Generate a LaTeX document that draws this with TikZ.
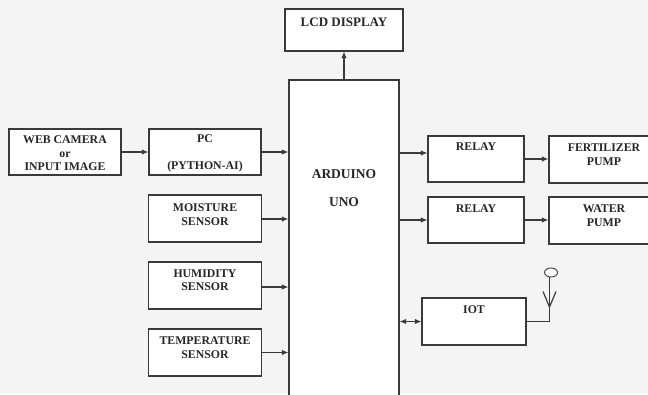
\documentclass[tikz,border=0pt]{standalone}
\usepackage{fontspec}
\setmainfont{Liberation Serif}
\usetikzlibrary{arrows.meta}
\definecolor{bggray}{HTML}{F4F4F4}
\definecolor{linegray}{HTML}{3A3A3A}
\definecolor{inkgray}{HTML}{262626}
\begin{document}
\begin{tikzpicture}[x=1pt,y=-1pt,
    blok/.style={draw=linegray, line width=1.2pt, fill=white, inner sep=0pt},
    txt/.style={text=inkgray, font=\bfseries\fontsize{11.8}{13.5}\selectfont, align=center, inner sep=0pt},
    arr/.style={draw=linegray, line width=1.2pt, -{Latex[length=6.5pt,width=5.5pt]}},
    darr/.style={draw=linegray, line width=1.2pt, {Latex[length=6.5pt,width=5.5pt]}-{Latex[length=6.5pt,width=5.5pt]}}]
    % background and frame of the page
        \fill[bggray] (0,0) rectangle (648,394);
        \clip (0,0) rectangle (648,394);
    % Below are the boxes.
        \node[blok, minimum width=118, minimum height=42] (lcd) at (344,30) {};
        \node[blok, minimum width=110, minimum height=350] (arduino) at (344,255) {};
        \node[blok, minimum width=112, minimum height=46] (webcam) at (65,152) {};
        \node[blok, minimum width=112, minimum height=46] (pc) at (205,152) {};
        \node[blok, minimum width=113, minimum height=47] (moisture) at (205,218.5) {};
        \node[blok, minimum width=113, minimum height=47] (humidity) at (205,285.5) {};
        \node[blok, minimum width=113, minimum height=47] (temp) at (205,352.5) {};
        \node[blok, minimum width=96, minimum height=46] (relayA) at (476,159) {};
        \node[blok, minimum width=96, minimum height=46] (relayB) at (476,220) {};
        \node[blok, minimum width=112, minimum height=47] (fert) at (605,159.5) {};
        \node[blok, minimum width=112, minimum height=47] (water) at (605,220.5) {};
        \node[blok, minimum width=104, minimum height=47] (iot) at (474,321.5) {};
    % Below nodes are the labels.
        \node[txt, font=\bfseries\fontsize{13}{15}\selectfont] (lcdT) at (344,22) {LCD DISPLAY};
        \node[txt, font=\bfseries\fontsize{13.5}{28}\selectfont] (arduinoT) at (344,188) {ARDUINO\\UNO};
        \node[txt] (webcamT) at (65,153.5) {WEB CAMERA\\or\\INPUT IMAGE};
        \node[txt] (pcT) at (205,153.5) {PC\\[13.5pt](PYTHON-AI)};
        \node[txt] (moistureT) at (205,214.5) {MOISTURE\\SENSOR};
        \node[txt] (humidityT) at (205,280) {HUMIDITY\\SENSOR};
        \node[txt] (tempT) at (205,347.5) {TEMPERATURE\\SENSOR};
        \node[txt] (relayAT) at (476,147) {RELAY};
        \node[txt] (relayBT) at (476,209) {RELAY};
        \node[txt] (fertT) at (604,154.5) {FERTILIZER\\PUMP};
        \node[txt] (waterT) at (604,215.5) {WATER\\PUMP};
        \node[txt] (iotT) at (474,310) {IOT};
    % This draws the arrows.
        \draw[arr] (arduino.north) -- (lcd.south);
        \draw[arr] (webcam.east) -- (pc.west);
        \draw[arr] (pc.east) -- (pc.east -| arduino.west);
        \draw[arr] ([yshift=-0.5pt]moisture.east) -- ([yshift=-0.5pt]moisture.east -| arduino.west);
        \draw[arr] ([yshift=-1.5pt]humidity.east) -- ([yshift=-1.5pt]humidity.east -| arduino.west);
        \draw[arr] (temp.east) -- (temp.east -| arduino.west);
        \draw[arr] ([yshift=6pt]relayA.west -| arduino.east) -- ([yshift=6pt]relayA.west);
        \draw[arr] (relayB.west -| arduino.east) -- (relayB.west);
        \draw[arr] (relayA.east) -- (relayA.east -| fert.west);
        \draw[arr] (relayB.east) -- (relayB.east -| water.west);
        \draw[darr] (iot.west -| arduino.east) -- (iot.west);
    % This draws the antenna of the IOT box.
        \coordinate (ant) at (549.5,277);
        \draw[linegray, line width=1.2pt] (iot.east) -| (ant);
        \draw[linegray, line width=1.2pt] (543,291.5) -- (549.5,307) -- (556,291.5);
        \draw[linegray, line width=0.9pt, fill=white] (551,272.5) ellipse (6.5 and 4.5);
\end{tikzpicture}
\end{document}
